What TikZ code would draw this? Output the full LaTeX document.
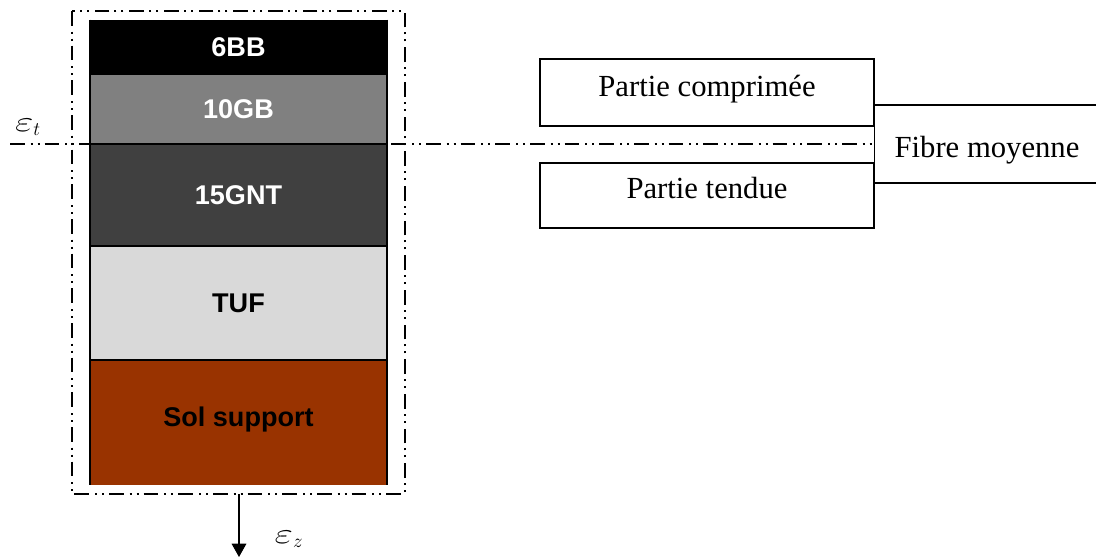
\documentclass[tikz,border=0pt]{standalone}
\usepackage{fontspec}
\setmainfont{Liberation Serif}
\setsansfont{Liberation Sans}
\usetikzlibrary{arrows.meta}
\definecolor{soilbrown}{HTML}{993300}
\definecolor{gbgray}{HTML}{808080}
\definecolor{gntgray}{HTML}{404040}
\definecolor{tufgray}{HTML}{D9D9D9}
\tikzset{
  dashdotdot/.style={line width=1.2pt, dash pattern=on 11pt off 4.5pt on 1.5pt off 3.75pt on 1.5pt off 3.75pt},
  layer/.style={minimum width=222.75pt, inner sep=0pt, draw=none,
     font=\sffamily\bfseries\fontsize{20.3}{24}\selectfont},
  partbox/.style={draw=black, line width=0.9pt, minimum width=250.5pt, inner sep=0pt},
  serif/.style={font=\rmfamily\fontsize{23}{27}\selectfont, inner sep=0pt, anchor=base},
  epslabel/.style={inner sep=0pt, font=\fontsize{21}{25}\selectfont},
  thinline/.style={line width=0.9pt},
}
\newcommand{\wideeps}{\scalebox{1.45}[1.05]{$\varepsilon$}}
\begin{document}
\begin{tikzpicture}[x=0.75pt, y=-0.75pt]
\useasboundingbox (0,0) rectangle (1096,558);
% layers
\node[layer, fill=black, text=white, minimum height=41.25pt] (bb) at (238.5,47.5) {6BB};
\node[layer, fill=gbgray, text=white, minimum height=51.75pt] (gb) at (238.5,109.5) {10GB};
\node[layer, fill=gntgray, text=white, minimum height=76.5pt] (gnt) at (238.5,195) {15GNT};
\node[layer, fill=tufgray, text=black, minimum height=85.5pt] (tuf) at (238.5,303) {TUF};
\node[layer, fill=soilbrown, text=black, minimum height=93.75pt, text depth=9pt] (sol) at (238.5,422.5) {Sol support};
\draw[line width=1.5pt] (bb.north west) -- (sol.south west);
\draw[line width=1.5pt] (bb.north east) -- (sol.south east);
\draw[line width=1.5pt] (gnt.north west) -- (gnt.north east);
\draw[line width=1.2pt] (tuf.north west) -- (tuf.north east);
\draw[line width=1.5pt] (sol.north west) -- (sol.north east);
% frame
\coordinate (frNW) at (72,11);
\coordinate (frSE) at (405,494);
\draw[dashdotdot] (frNW) rectangle (frSE);
% neutral axis
\coordinate (axL) at (10,144);
\coordinate (axR) at (873,144);
\draw[dashdotdot] (axL) -- (axR);
\node[epslabel] (epst) at (28,127) {$\wideeps_t$};
% arrow
\coordinate (arS) at (239,494);
\coordinate (arE) at (239,557);
\draw[thinline, -{Triangle[width=11pt,length=10pt]}] (arS) -- (arE);
\node[epslabel] (epsz) at (289,539) {$\wideeps_z$};
% right legend
\node[partbox, minimum height=50.25pt] (comp) at (707,92.5) {};
\node[partbox, minimum height=48.75pt] (tend) at (707,195.5) {};
\node[serif] (comptxt) at (707,96) {Partie comprimée};
\node[serif] (tendtxt) at (707,198) {Partie tendue};
\draw[thinline] (comp.north east) -- (tend.south east);
\coordinate (rA) at (874,105);
\coordinate (rAe) at (1096,105);
\coordinate (rB) at (874,183);
\coordinate (rBe) at (1096,183);
\draw[thinline] (rA) -- (rAe);
\draw[thinline] (rB) -- (rBe);
\node[serif] (fibre) at (987,157) {Fibre moyenne};
\end{tikzpicture}
\end{document}
